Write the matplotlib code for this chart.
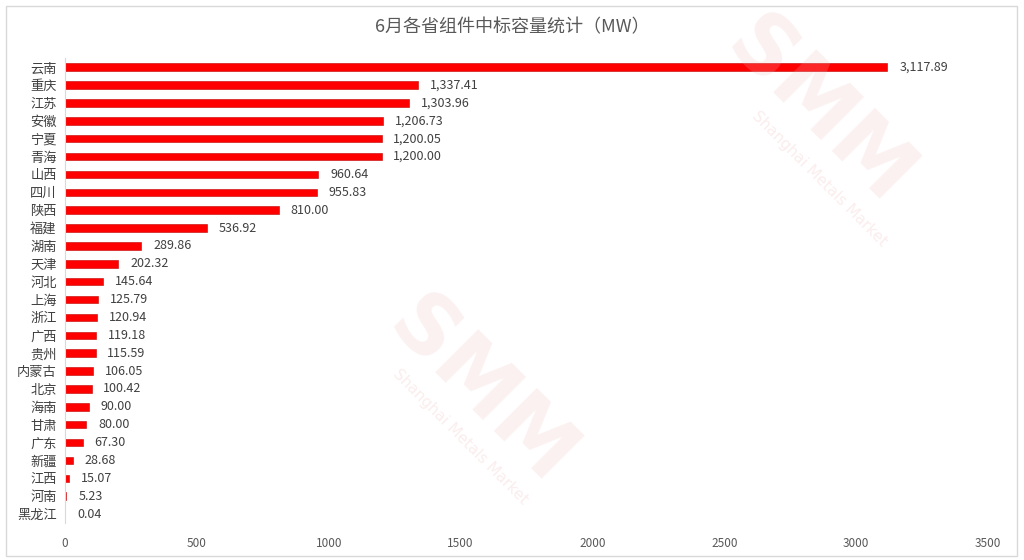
import matplotlib
matplotlib.use('Agg')
import matplotlib.pyplot as plt
from matplotlib.patches import Rectangle

plt.rcParams['font.family'] = ['Noto Sans CJK SC', 'DejaVu Sans']

provinces = ['云南', '重庆', '江苏', '安徽', '宁夏', '青海', '山西', '四川', '陕西', '福建',
             '湖南', '天津', '河北', '上海', '浙江', '广西', '贵州', '内蒙古', '北京', '海南',
             '甘肃', '广东', '新疆', '江西', '河南', '黑龙江']
capacity = [3117.89, 1337.41, 1303.96, 1206.73, 1200.05, 1200.00, 960.64, 955.83, 810.00, 536.92,
            289.86, 202.32, 145.64, 125.79, 120.94, 119.18, 115.59, 106.05, 100.42, 90.00,
            80.00, 67.30, 28.68, 15.07, 5.23, 0.04]
xticks = [0, 500, 1000, 1500, 2000, 2500, 3000, 3500]
title = '6月各省组件中标容量统计（MW）'

fig = plt.figure(figsize=(10.24, 5.6), dpi=100)
fig.patch.set_facecolor('white')
# chart area frame, like the Excel chart box
fig.patches.append(Rectangle((0.006, 0.008), 0.987, 0.982, transform=fig.transFigure,
                             fill=False, edgecolor='#d9d9d9', linewidth=1))

# faint watermark
for (x, y, s) in [(0.80, 0.80, 'SMM'), (0.47, 0.30, 'SMM')]:
    fig.text(x, y, s, fontsize=60, fontweight='bold', color='#f0b8b8', alpha=0.2,
             rotation=-45, ha='center', va='center', family='DejaVu Sans')
for (x, y) in [(0.80, 0.68), (0.45, 0.22)]:
    fig.text(x, y, 'Shanghai Metals Market', fontsize=11, color='#f0b8b8', alpha=0.25,
             rotation=-45, ha='center', va='center', family='DejaVu Sans')

ax = fig.add_axes([0.0635, 0.066, 0.9015, 0.83])
y = list(range(len(provinces)))
ax.barh(y, capacity, height=0.42, color='#ff0000', edgecolor='#c00000', linewidth=0.4)
for yi, v in zip(y, capacity):
    ax.text(v + 45, yi, f'{v:,.2f}', va='center', ha='left', fontsize=9, color='#404040')

ax.set_ylim(len(provinces) - 0.5, -0.5)
ax.set_xlim(0, 3500)
ax.set_yticks(y)
ax.set_yticklabels(provinces, fontsize=9.5, color='#404040')
ax.set_xticks(xticks)
ax.set_xticklabels([str(t) for t in xticks], fontsize=8.5, color='#595959')
ax.tick_params(axis='both', length=0)
ax.tick_params(axis='x', pad=10)
ax.tick_params(axis='y', pad=6)
for side in ['top', 'right', 'bottom']:
    ax.spines[side].set_visible(False)
ax.spines['left'].set_color('#d9d9d9')
ax.set_facecolor('none')

fig.text(0.5, 0.952, title, ha='center', va='center', fontsize=13, color='#595959')

fig.savefig('out.png', dpi=100, facecolor='white')
